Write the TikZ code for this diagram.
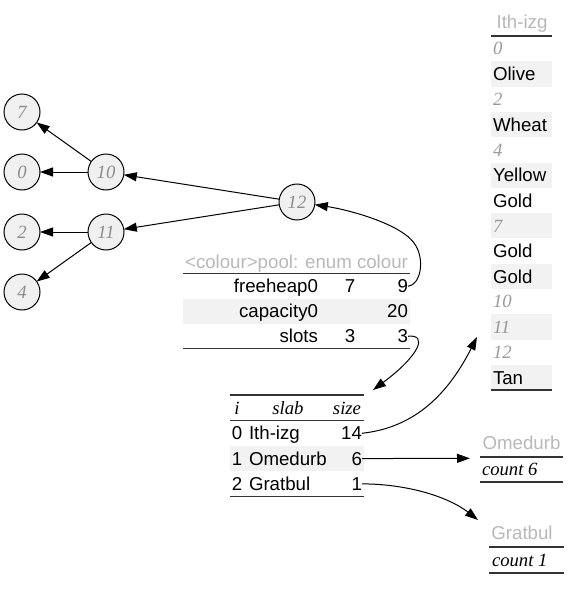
\documentclass[tikz,border=0pt]{standalone}
\usepackage{fontspec}
\setmainfont{Liberation Serif}
\setsansfont{Liberation Sans}
\usetikzlibrary{arrows.meta}
\definecolor{shade}{HTML}{F2F2F2}
\definecolor{titlegray}{HTML}{B8B8B8}
\definecolor{idxgray}{HTML}{999999}
\definecolor{circfill}{HTML}{F0F0F0}
\definecolor{circtext}{HTML}{8C8C8C}
\begin{document}
\begin{tikzpicture}[x=1pt,y=-1pt,
  every node/.style={inner sep=0pt, outer sep=0pt},
  sans/.style={font=\sffamily\fontsize{18.67}{22}\selectfont},
  ital/.style={font=\rmfamily\itshape\fontsize{18.67}{22}\selectfont},
  circ/.style={circle, draw=black, line width=1pt, fill=circfill, minimum size=36pt,
    font=\rmfamily\itshape\fontsize{18.67}{22}\selectfont, text=circtext},
  arr/.style={-{Triangle[length=13pt,width=9pt]}, line width=1pt},
  rule/.style={line width=1.5pt, draw=black!80},
  band/.style={fill=shade, draw=none},
  ttl/.style={sans, text=titlegray, anchor=base},
  idx/.style={ital, text=idxgray, anchor=base west},
  cell/.style={sans, anchor=base west},
  cellr/.style={sans, anchor=base east},
  cellc/.style={sans, anchor=base},
]
\useasboundingbox (0,0) rectangle (580,589);

% ---------- heap tree ----------
\node[circ] (c7)  at (22,112) {7};
\node[circ] (c0)  at (22,172) {0};
\node[circ] (c10) at (106,172) {10};
\node[circ] (c2)  at (22,232) {2};
\node[circ] (c11) at (106,232) {11};
\node[circ] (c4)  at (22,292) {4};
\node[circ] (c12) at (297,202) {12};
\draw[arr] (c12) -- (c10);
\draw[arr] (c12) -- (c11);
\draw[arr] (c10) -- (c7);
\draw[arr] (c10) -- (c0);
\draw[arr] (c11) -- (c2);
\draw[arr] (c11) -- (c4);

% ---------- pool table ----------
\fill[band] (183,298.5) rectangle (410,323.5);
\node[ttl] (ptitle) at (296.5,268) {<colour>pool: enum colour};
\draw[rule] (183,273.5) -- (410,273.5);
\draw[rule] (183,348.5) -- (410,348.5);
\node[cellr] (pfh)  at (318,292.7) {freeheap0};
\node[cellc] (p7)   at (350,292.7) {7};
\node[cellr] (p9)   at (408,292.7) {9};
\node[cellr] (pcap) at (318,317.7) {capacity0};
\node[cellr] (p20)  at (408,317.7) {20};
\node[cellr] (psl)  at (318,342.7) {slots};
\node[cellc] (p3a)  at (350,342.7) {3};
\node[cellr] (p3b)  at (408,342.7) {3};

% ---------- slab table ----------
\fill[band] (230,445.6) rectangle (364,471);
\draw[rule] (230,395) -- (364,395);
\draw[rule] (230,420.3) -- (364,420.3);
\draw[rule] (230,496.3) -- (364,496.3);
\node[ital, anchor=base] (hi) at (237,414) {i};
\node[ital, anchor=base] (hslab) at (288,414) {slab};
\node[ital, anchor=base east] (hsize) at (361,414) {size};
\node[cellc] (s0)  at (237,439.7) {0};
\node[cell]  (s0n) at (249,439.7) {Ith-izg};
\node[cellr] (n14) at (362,439.7) {14};
\node[cellc] (s1)  at (237,465) {1};
\node[cell]  (s1n) at (249,465) {Omedurb};
\node[cellr] (n6)  at (362,465) {6};
\node[cellc] (s2)  at (237,490.3) {2};
\node[cell]  (s2n) at (249,490.3) {Gratbul};
\node[cellr] (n1)  at (362,490.3) {1};

% ---------- Ith-izg table ----------
\foreach \r in {1,3,5,7,9,11,13}
  \fill[band] (491,{36+25.3*\r}) rectangle (552,{36+25.3*(\r+1)});
\node[ttl] (ith) at (522,28) {Ith-izg};
\draw[rule] (491,36) -- (552,36);
\draw[rule] (491,390.2) -- (552,390.2);
\foreach \r/\t in {0/0,2/2,4/4,7/7,10/10,11/11,12/12}
  \node[idx] (t\r) at (493,{36+25.3*\r+12.65+6.3}) {\t};
\foreach \r/\t in {1/Olive,3/Wheat,5/Yellow,6/Gold,8/Gold,9/Gold,13/Tan}
  \node[cell] (t\r) at (493,{36+25.3*\r+12.65+6.7}) {\t};

% ---------- Omedurb table ----------
\node[ttl] (ome) at (521.5,449.7) {Omedurb};
\draw[rule] (480,457) -- (563,457);
\node[ital, anchor=base west] (omec) at (482,475.8) {count 6};
\draw[rule] (480,482) -- (563,482);

% ---------- Gratbul table ----------
\node[ttl] (gra) at (522,539.7) {Gratbul};
\draw[rule] (489,547) -- (564,547);
\node[ital, anchor=base west] (grac) at (492,566.3) {count 1};
\draw[rule] (489,573) -- (564,573);

% ---------- connectors ----------
\coordinate (slabin) at (373,390);
\coordinate (ithin) at (477,337);
\coordinate (omein) at (470,458.3);
\coordinate (grain) at (478,520);
\draw[arr] (p9.east) .. controls (420,285) and (425,262) .. (416,246)
   .. controls (405,225) and (350,210) .. (c12);
\draw[arr] (p3b.east) .. controls (428,334) and (420,355) .. (slabin);
\draw[arr] (n14.east) .. controls (410,428) and (445,400) .. (ithin);
\draw[arr] (n6.east) -- (omein);
\draw[arr] (n1.east) .. controls (410,484) and (450,498) .. (grain);
\end{tikzpicture}
\end{document}
